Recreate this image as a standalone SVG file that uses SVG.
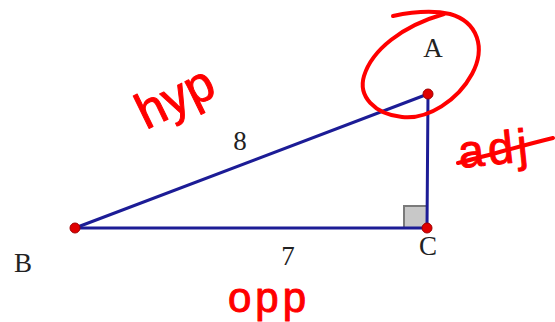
<svg xmlns="http://www.w3.org/2000/svg" width="555" height="322" viewBox="0 0 555 322">
<style>
.edge{stroke:#1c1c96;stroke-width:3;fill:none;stroke-linecap:round}
.dot{fill:#e00000;stroke:#a00000;stroke-width:1}
.lbl{font-family:"Liberation Serif",serif;font-size:27px;fill:#222}
.hand{font-family:"Liberation Sans",sans-serif;fill:#ff0000;stroke:#ff0000;stroke-width:1;stroke-linejoin:round}
.ink{fill:none;stroke:#ff0000;stroke-width:4;stroke-linecap:round;stroke-linejoin:round}
</style>
<rect width="555" height="322" fill="#ffffff"/>
<g id="right-angle">
<rect x="404" y="206" width="23" height="22" fill="#c8c8c8" stroke="#7a7a7a" stroke-width="2"/>
</g>
<g id="connectors">
<line class="edge" x1="75" y1="228" x2="427" y2="228"/>
<line class="edge" x1="427" y1="228" x2="428" y2="94"/>
<line class="edge" x1="75" y1="228" x2="428" y2="94"/>
<text class="lbl" x="240" y="150" text-anchor="middle">8</text>
<text class="lbl" x="288" y="265" text-anchor="middle">7</text>
</g>
<g id="node-A">
<circle class="dot" cx="428" cy="94" r="5"/>
<text class="lbl" x="433" y="57" text-anchor="middle">A</text>
</g>
<g id="node-B">
<circle class="dot" cx="75" cy="228" r="5"/>
<text class="lbl" x="23" y="272" text-anchor="middle">B</text>
</g>
<g id="node-C">
<circle class="dot" cx="427" cy="228" r="5"/>
<text class="lbl" x="428" y="255" text-anchor="middle">C</text>
</g>
<g id="annotations">
<path class="ink" d="M393,16 C412,12 432,10 450,14 C478,22 486,48 472,74 C458,100 428,120 402,117 C374,114 358,96 364,76 C372,50 402,26 444,14"/>
<text class="hand" x="146" y="130" font-size="50" transform="rotate(-26 146 130)">hyp</text>
<text class="hand" x="460" y="168" font-size="46" letter-spacing="4" transform="rotate(-6 460 168)">adj</text>
<path class="ink" d="M458,163 C490,155 520,146 553,138"/>
<text class="hand" x="228" y="312" font-size="42" letter-spacing="4">opp</text>
</g>
</svg>
